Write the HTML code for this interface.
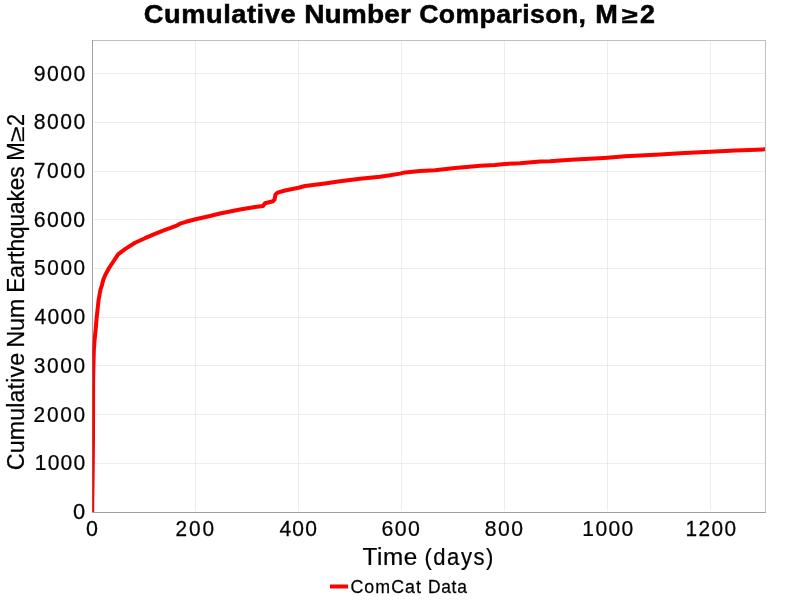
<!DOCTYPE html>
<html>
<head>
<meta charset="utf-8">
<title>Cumulative Number Comparison, M≥2</title>
<style>
html,body{margin:0;padding:0;background:#fff;width:800px;height:600px;overflow:hidden}
svg{display:block}
text{font-family:"Liberation Sans",sans-serif;fill:#000}
</style>
</head>
<body>
<svg width="800" height="600" viewBox="0 0 800 600">
<rect x="0" y="0" width="800" height="600" fill="#ffffff"/>
<defs><clipPath id="pc"><rect x="92" y="40" width="673" height="472"/></clipPath></defs>
<!-- axis lines -->
<g stroke="#808080" stroke-opacity="0.5" stroke-width="1" shape-rendering="crispEdges">
<line x1="92.5" y1="40" x2="92.5" y2="513"/>
<line x1="93" y1="512.5" x2="766" y2="512.5"/>
</g>
<!-- gridlines -->
<g stroke="#c0c0c0" stroke-opacity="0.28" stroke-width="1" shape-rendering="crispEdges">
<line x1="195.5" y1="41" x2="195.5" y2="511"/>
<line x1="298.5" y1="41" x2="298.5" y2="511"/>
<line x1="401.5" y1="41" x2="401.5" y2="511"/>
<line x1="504.5" y1="41" x2="504.5" y2="511"/>
<line x1="607.5" y1="41" x2="607.5" y2="511"/>
<line x1="710.5" y1="41" x2="710.5" y2="511"/>
<line x1="94" y1="463.5" x2="765" y2="463.5"/>
<line x1="94" y1="414.5" x2="765" y2="414.5"/>
<line x1="94" y1="365.5" x2="765" y2="365.5"/>
<line x1="94" y1="317.5" x2="765" y2="317.5"/>
<line x1="94" y1="268.5" x2="765" y2="268.5"/>
<line x1="94" y1="219.5" x2="765" y2="219.5"/>
<line x1="94" y1="171.5" x2="765" y2="171.5"/>
<line x1="94" y1="122.5" x2="765" y2="122.5"/>
<line x1="94" y1="73.5" x2="765" y2="73.5"/>
</g>
<!-- data curve -->
<g clip-path="url(#pc)">
<polyline fill="none" stroke="#ff0000" stroke-width="4" stroke-linejoin="round" stroke-linecap="butt" points="92.2,513 92.3,500 92.7,470 93.0,440 93.1,400 93.15,380 93.4,366 93.85,350 94.6,340 95.6,330 96.7,317.4 98.6,300 100.4,290 102,285 103.2,280 105.3,275 109.1,268 113.7,261 118.1,254.3 125,249.1 135,242.8 145,238.2 155,233.9 165,229.9 170,228.2 176,225.9 180,223.7 186,221.8 195.5,219.3 210,216 220,213.5 230,211.5 240,209.5 255,207 263,206 265,203.3 273,201.3 274.5,199.5 275.5,194.5 277.5,192.7 285,190.5 298.5,187.8 305,186 315,184.8 325,183.5 340,181.3 360,178.8 380,176.7 390,175.3 400,173.6 405,172.4 410,171.9 420,171.1 435,170.2 455,168 475,166.2 480,165.7 495,165 504.5,164 520,163.3 540,161.5 550,161.3 560,160.5 575,159.5 595,158.5 607.5,157.7 625,156.2 640,155.5 660,154.5 680,153.3 700,152.3 710.5,151.7 735,150.5 766,149.3"/>
</g>
<!-- plot outline -->
<rect x="92.5" y="40.5" width="673" height="472" fill="none" stroke="#808080" stroke-opacity="0.5" stroke-width="1" shape-rendering="crispEdges"/>
<!-- text -->
<g style="opacity:0.999">
<text transform="matrix(1.0021 0 0 1.0000 33.816 80.700)" font-size="21.207" font-weight="normal" letter-spacing="1.372" stroke="#000" stroke-width="0.25">9000</text>
<text transform="matrix(0.9968 0 0 1.0000 33.727 128.700)" font-size="21.207" font-weight="normal" letter-spacing="1.491" stroke="#000" stroke-width="0.25">8000</text>
<text transform="matrix(0.9889 0 0 1.0000 33.724 177.700)" font-size="21.207" font-weight="normal" letter-spacing="1.627" stroke="#000" stroke-width="0.25">7000</text>
<text transform="matrix(1.0026 0 0 1.0000 33.762 226.700)" font-size="21.207" font-weight="normal" letter-spacing="1.381" stroke="#000" stroke-width="0.25">6000</text>
<text transform="matrix(0.9802 0 0 1.0000 33.993 274.700)" font-size="21.207" font-weight="normal" letter-spacing="1.686" stroke="#000" stroke-width="0.25">5000</text>
<text transform="matrix(0.9942 0 0 1.0000 34.451 323.700)" font-size="21.207" font-weight="normal" letter-spacing="1.293" stroke="#000" stroke-width="0.25">4000</text>
<text transform="matrix(0.9843 0 0 1.0000 33.842 372.700)" font-size="21.207" font-weight="normal" letter-spacing="1.666" stroke="#000" stroke-width="0.25">3000</text>
<text transform="matrix(0.9855 0 0 1.0000 33.580 421.700)" font-size="21.207" font-weight="normal" letter-spacing="1.735" stroke="#000" stroke-width="0.25">2000</text>
<text transform="matrix(0.9941 0 0 1.0000 34.744 469.700)" font-size="21.207" font-weight="normal" letter-spacing="1.195" stroke="#000" stroke-width="0.25">1000</text>
<text transform="matrix(1.0319 0 0 1.0000 73.050 518.700)" font-size="21.207" font-weight="normal" stroke="#000" stroke-width="0.25">0</text>
<text transform="matrix(1.0122 0 0 1.0000 86.066 535.700)" font-size="21.207" font-weight="normal" stroke="#000" stroke-width="0.25">0</text>
<text transform="matrix(0.9825 0 0 1.0000 175.583 535.700)" font-size="21.207" font-weight="normal" letter-spacing="1.846" stroke="#000" stroke-width="0.25">200</text>
<text transform="matrix(0.9942 0 0 1.0000 279.451 535.700)" font-size="21.207" font-weight="normal" letter-spacing="1.186" stroke="#000" stroke-width="0.25">400</text>
<text transform="matrix(1.0054 0 0 1.0000 381.559 535.700)" font-size="21.207" font-weight="normal" letter-spacing="1.422" stroke="#000" stroke-width="0.25">600</text>
<text transform="matrix(0.9977 0 0 1.0000 484.826 535.700)" font-size="21.207" font-weight="normal" letter-spacing="1.434" stroke="#000" stroke-width="0.25">800</text>
<text transform="matrix(0.9941 0 0 1.0000 582.344 535.700)" font-size="21.207" font-weight="normal" letter-spacing="1.330" stroke="#000" stroke-width="0.25">1000</text>
<text transform="matrix(0.9825 0 0 1.0000 685.562 535.700)" font-size="21.207" font-weight="normal" letter-spacing="1.385" stroke="#000" stroke-width="0.25">1200</text>
<text transform="matrix(1.0734 0 0 1.0000 143.857 23.000)" font-size="25.449" font-weight="bold" letter-spacing="0.478" stroke="#000" stroke-width="0.5">Cumulative</text>
<text transform="matrix(1.1048 0 0 1.0000 304.152 23.000)" font-size="25.449" font-weight="bold" letter-spacing="0.111" stroke="#000" stroke-width="0.5">Number</text>
<text transform="matrix(1.0471 0 0 1.0000 419.184 23.000)" font-size="25.449" font-weight="bold" letter-spacing="0.380" stroke="#000" stroke-width="0.5">Comparison,</text>
<text transform="matrix(1.0648 0 0 1.0000 595.221 23.000)" font-size="25.449" font-weight="bold" stroke="#000" stroke-width="0.5">M</text>
<text transform="matrix(1.0560 0 0 1.0000 640.109 23.000)" font-size="25.449" font-weight="bold" stroke="#000" stroke-width="0.5">2</text>
<text transform="matrix(1.1395 0 0 0.8698 621.525 23.000)" font-size="25.449" font-weight="bold" stroke="#000" stroke-width="0.5">≥</text>
<text transform="matrix(1.0406 0 0 1.0000 362.579 564.600)" font-size="23.328" font-weight="normal" letter-spacing="0.496" stroke="#000" stroke-width="0.25">Time</text>
<text transform="matrix(0.9460 0 0 1.0000 424.446 564.600)" font-size="23.328" font-weight="normal" letter-spacing="1.619" stroke="#000" stroke-width="0.25">(days)</text>
<text transform="matrix(0.9639 0 0 1.0000 350.435 592.700)" font-size="18.473" font-weight="normal" letter-spacing="1.094" stroke="#000" stroke-width="0.25">ComCat</text>
<text transform="matrix(0.9445 0 0 1.0000 427.886 592.700)" font-size="18.473" font-weight="normal" letter-spacing="0.752" stroke="#000" stroke-width="0.25">Data</text>
<text transform="matrix(0 -0.9969 1.0000 0 24.000 470.238)" font-size="23.328" font-weight="normal" letter-spacing="0.120" stroke="#000" stroke-width="0.25">Cumulative</text>
<text transform="matrix(0 -1.0125 1.0000 0 24.000 347.724)" font-size="23.328" font-weight="normal" letter-spacing="-0.299" stroke="#000" stroke-width="0.25">Num</text>
<text transform="matrix(0 -0.9749 1.0000 0 24.000 292.651)" font-size="23.328" font-weight="normal" letter-spacing="-0.136" stroke="#000" stroke-width="0.25">Earthquakes</text>
<text transform="matrix(0 -0.9537 1.0000 0 24.000 160.710)" font-size="23.328" font-weight="normal" stroke="#000" stroke-width="0.25">M</text>
<text transform="matrix(0 -0.9280 1.0000 0 24.000 125.957)" font-size="23.328" font-weight="normal" stroke="#000" stroke-width="0.25">2</text>
<text transform="matrix(0 -1.2065 0.9288 0 24.000 141.690)" font-size="23.328" font-weight="normal" stroke="#000" stroke-width="0.25">≥</text>
</g>
<!-- legend marker -->
<rect x="330" y="584.5" width="18" height="4" fill="#ff0000"/>
</svg>
</body>
</html>
